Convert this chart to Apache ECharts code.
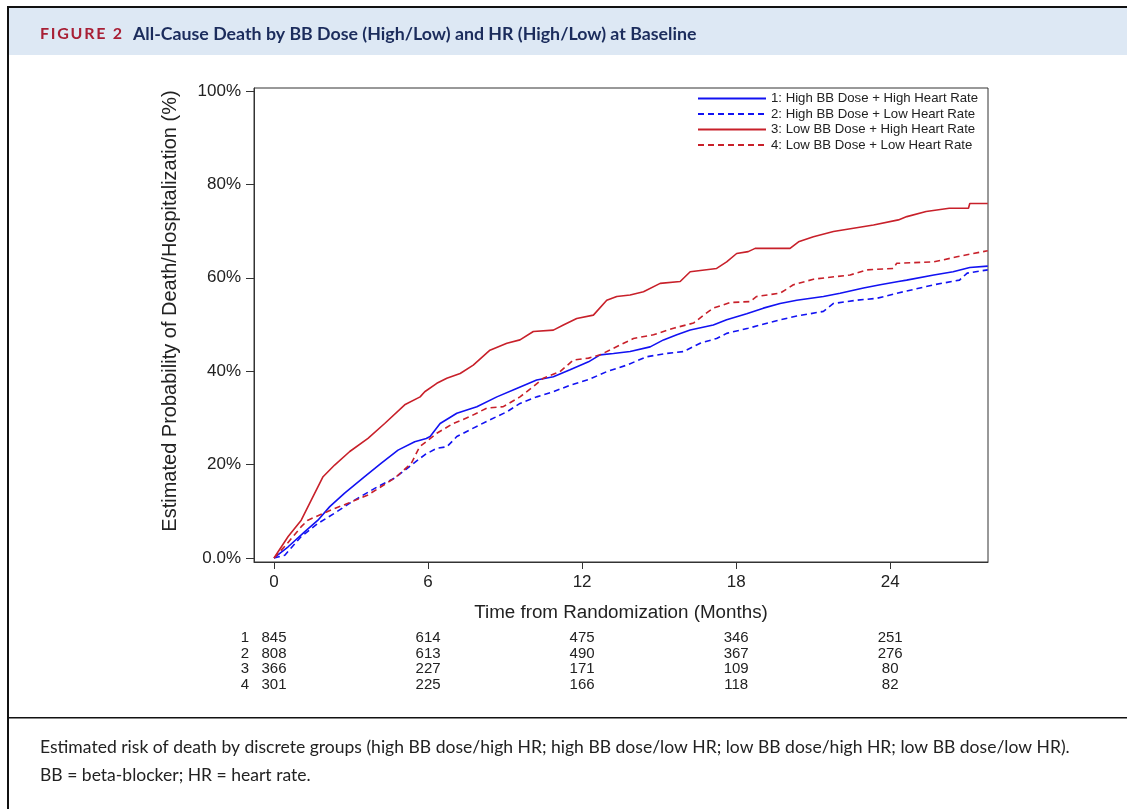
<!DOCTYPE html>
<html><head><meta charset="utf-8">
<script src="https://cdn.jsdelivr.net/npm/echarts@6/dist/echarts.min.js"></script>
<style>html,body{margin:0;padding:0;background:#fff;}#c{width:1127px;height:809px;}</style>
</head><body><div id="c"></div>
<script>
// ---------- data ----------
const seriesNames = [
  '1: High BB Dose + High Heart Rate',
  '2: High BB Dose + Low Heart Rate',
  '3: Low BB Dose + High Heart Rate',
  '4: Low BB Dose + Low Heart Rate'
];
const t1 = [0,0.55,1.19,1.71,2.17,2.75,3.53,4.18,4.83,5.48,5.93,6.08,6.47,7.12,7.9,8.68,9.45,10.23,10.88,11.53,12.25,12.7,13.22,13.87,14.65,15.17,15.69,16.21,17.11,17.63,18.41,19.06,19.71,20.36,21.4,22.05,22.96,23.61,24.32,24.64,25.7,26.45,27.1,27.8];
const v1 = [0,2.4,5.6,8.1,11.0,13.9,17.4,20.3,23.1,24.9,25.6,26.0,28.8,31.0,32.4,34.5,36.3,38.1,38.8,40.3,42.0,43.5,43.8,44.2,45.2,46.7,47.8,48.8,49.9,51.0,52.3,53.5,54.5,55.2,56.0,56.7,57.8,58.5,59.2,59.5,60.6,61.3,62.2,62.5];
const t2 = [0,0.42,1.06,1.71,2.36,3.14,4.05,4.7,5.35,5.87,6.34,6.73,7.12,7.76,8.41,9.07,9.58,10.23,10.88,11.53,12.25,12.96,13.74,14.52,15.3,15.95,16.6,17.24,17.63,18.47,19.71,20.36,21.4,21.79,22.7,23.48,24.35,25.7,26.7,27.0,27.8];
const v2 = [0,0.6,4.6,7.4,9.6,12.4,15.3,17.1,19.9,22.1,23.5,23.8,26.0,27.8,29.6,31.3,33.1,34.5,35.6,37.0,38.2,39.9,41.3,43.1,43.8,44.2,46.0,47.0,48.1,49.2,51.0,51.8,52.8,54.5,55.2,55.6,56.8,58.5,59.5,61.0,61.7];
const t3 = [0,0.55,1.06,1.45,1.91,2.36,2.95,3.66,4.31,5.09,5.69,5.87,6.34,6.73,7.25,7.76,8.41,9.07,9.58,10.1,10.88,11.27,11.79,12.44,12.96,13.35,13.87,14.39,15.04,15.82,16.21,17.24,17.63,18.02,18.47,18.74,20.1,20.43,21.01,21.79,22.57,23.35,24.32,24.65,25.4,26.3,27.05,27.1,27.8];
const v3 = [0,4.6,8.1,12.4,17.4,19.9,22.8,25.6,28.8,32.8,34.5,35.6,37.4,38.5,39.5,41.3,44.5,46.0,46.7,48.5,48.8,49.9,51.3,52.0,55.2,56.0,56.3,57.0,58.8,59.2,61.3,62.0,63.4,65.2,65.6,66.3,66.3,67.7,68.8,69.9,70.6,71.3,72.4,73.1,74.2,74.9,74.9,75.9,75.9];
const t4 = [0,0.5,1.06,1.32,2.23,2.88,3.66,4.7,5.35,5.67,6.34,6.98,7.64,8.29,8.93,9.58,10.1,10.49,11.14,11.66,12.25,12.7,13.22,14.0,14.78,15.56,16.34,16.73,17.11,17.76,18.54,18.8,19.71,20.23,21.01,22.44,23.09,24.13,24.25,25.7,26.6,27.8];
const v4 = [0,3.0,6.7,8.1,10.3,11.7,13.5,17.1,20.3,23.8,26.7,28.8,30.3,32.1,32.4,34.5,36.7,38.5,39.9,42.4,42.8,43.5,44.9,47.0,47.8,49.2,50.3,52.0,53.5,54.7,54.9,56.0,56.7,58.5,59.7,60.6,61.7,62.0,63.1,63.4,64.5,65.8];
const xTicks = [0,6,12,18,24];
const yTicks = [0,20,40,60,80,100];
const riskGroups = ['1','2','3','4'];
const riskCounts = [
  [845,614,475,346,251],
  [808,613,490,367,276],
  [366,227,171,109,80],
  [301,225,166,118,82]
];
const figLabel = 'FIGURE 2';
const titleText = 'All-Cause Death by BB Dose (High/Low) and HR (High/Low) at Baseline';
const xName = 'Time from Randomization (Months)';
const yName = 'Estimated Probability of Death/Hospitalization (%)';
const caption1 = 'Estimated risk of death by discrete groups (high BB dose/high HR; high BB dose/low HR; low BB dose/high HR; low BB dose/low HR).';
const caption2 = 'BB = beta-blocker; HR = heart rate.';

// ---------- styling ----------
const BLUE = '#1212f2', RED = '#c8202a';
const styles = [
  {color: BLUE, type: 'solid'},
  {color: BLUE, type: [6, 4]},
  {color: RED, type: 'solid'},
  {color: RED, type: [6, 4]}
];
const times = [t1, t2, t3, t4];
const vals = [v1, v2, v3, v4];
const AX = 'Liberation Sans, Arial, sans-serif';

const chart = echarts.init(document.getElementById('c'), null, {renderer: 'canvas'});
const series = seriesNames.map((n, i) => ({
  name: n, type: 'line', symbol: 'none', showSymbol: false, smooth: false,
  data: times[i].map((t, k) => [t, vals[i][k]]),
  lineStyle: {color: styles[i].color, width: 1.6, type: styles[i].type},
  itemStyle: {color: styles[i].color},
  emphasis: {disabled: true}, z: 3
}));

chart.setOption({
  animation: false,
  backgroundColor: '#fff',
  grid: {left: 254, top: 88, width: 734, height: 474, show: true, borderColor: '#333', borderWidth: 1, backgroundColor: 'transparent'},
  xAxis: {
    type: 'value', min: -0.78, max: 27.81,
    axisLine: {show: true, onZero: false, lineStyle: {color: '#333', width: 1}},
    axisTick: {show: true, length: 7, customValues: xTicks, lineStyle: {color: '#333'}},
    axisLabel: {customValues: xTicks, fontSize: 17, fontFamily: AX, color: '#222', margin: 12},
    splitLine: {show: false}
  },
  yAxis: {
    type: 'value', min: -0.86, max: 100.64,
    axisLine: {show: true, onZero: false, lineStyle: {color: '#333', width: 1}},
    axisTick: {show: true, length: 8, customValues: yTicks, lineStyle: {color: '#333'}},
    axisLabel: {customValues: yTicks, fontSize: 17, fontFamily: AX, color: '#222', margin: 13,
      formatter: v => v === 0 ? '0.0%' : v + '%'},
    splitLine: {show: false}
  },
  legend: {
    data: seriesNames, orient: 'vertical', left: 697, top: 91, padding: 0,
    itemWidth: 68, itemHeight: 12, itemGap: 0.5,
    itemStyle: {color: 'rgba(0,0,0,0)', borderWidth: 0, opacity: 0},
    textStyle: {fontSize: 13.2, fontFamily: AX, color: '#222', lineHeight: 15},
    selectedMode: false
  },
  series: series
});

// ---------- text / frame via graphic ----------
const mctx = document.createElement('canvas').getContext('2d');
function measure(text, font) { mctx.font = font; return mctx.measureText(text).width; }

const g = [];
// frame
g.push({type: 'rect', shape: {x: 9, y: 8, width: 1118, height: 47}, style: {fill: '#dde8f4'}, silent: true});
g.push({type: 'rect', shape: {x: 7, y: 6, width: 1120, height: 2}, style: {fill: '#111'}, silent: true});
g.push({type: 'rect', shape: {x: 7, y: 6, width: 2, height: 803}, style: {fill: '#111'}, silent: true});
g.push({type: 'rect', shape: {x: 8, y: 717, width: 1119, height: 1.6}, style: {fill: '#111'}, silent: true});

// FIGURE 2 with letter spacing
const figFont = 'bold 16px Lato, sans-serif';
const figChars = figLabel.split('');
const figNatural = measure(figLabel, figFont);
const figSpacing = (82 - figNatural) / (figChars.length - 1);
let fx = 40;
figChars.forEach(ch => {
  g.push({type: 'text', x: fx, y: 34, silent: true,
    style: {text: ch, font: figFont, fill: '#a81f35', verticalAlign: 'middle', align: 'left'}});
  fx += measure(ch, figFont) + figSpacing;
});
// title
const titleSize = Math.max(13, Math.min(20, 15 * 564 / measure(titleText, 'bold 15px Lato, sans-serif')));
g.push({type: 'text', x: 133, y: 34, silent: true,
  style: {text: titleText, font: 'bold ' + titleSize.toFixed(2) + 'px Lato, sans-serif', fill: '#1b2c5c', verticalAlign: 'middle'}});

// axis names
g.push({type: 'text', x: 621, y: 613, silent: true,
  style: {text: xName, font: '18.8px ' + AX, fill: '#222', align: 'center', verticalAlign: 'middle'}});
g.push({type: 'text', x: 170, y: 311, rotation: Math.PI / 2, silent: true,
  style: {text: yName, font: '20px ' + AX, fill: '#222', align: 'center', verticalAlign: 'middle'}});

// risk table
const rowY = [638, 653.5, 669, 684.5];
riskGroups.forEach((gname, r) => {
  g.push({type: 'text', x: 245, y: rowY[r], silent: true,
    style: {text: gname, font: '15px ' + AX, fill: '#222', align: 'center', verticalAlign: 'middle'}});
  xTicks.forEach((t, c) => {
    const px = chart.convertToPixel({xAxisIndex: 0}, t);
    g.push({type: 'text', x: px, y: rowY[r], silent: true,
      style: {text: String(riskCounts[r][c]), font: '15px ' + AX, fill: '#222', align: 'center', verticalAlign: 'middle'}});
  });
});

// caption
const capSize = Math.max(14, Math.min(18, 16 * 1030 / measure(caption1, '16px Lato, sans-serif')));
g.push({type: 'text', x: 40, y: 747, silent: true,
  style: {text: caption1, font: capSize.toFixed(2) + 'px Lato, sans-serif', fill: '#222', verticalAlign: 'middle'}});
g.push({type: 'text', x: 40, y: 775, silent: true,
  style: {text: caption2, font: capSize.toFixed(2) + 'px Lato, sans-serif', fill: '#222', verticalAlign: 'middle'}});

chart.setOption({graphic: {elements: g}});
</script>
</body></html>
